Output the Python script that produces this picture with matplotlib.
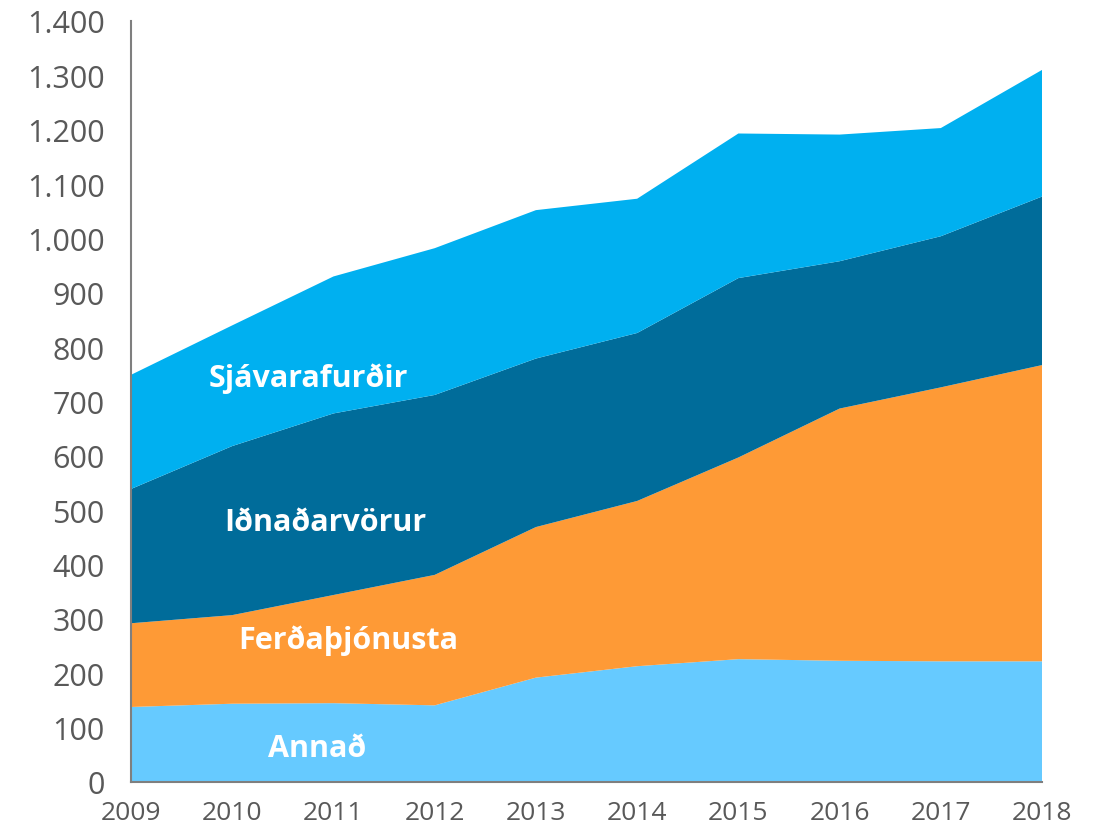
import numpy as np
import matplotlib.pyplot as plt
from matplotlib.ticker import FuncFormatter

years = [2009, 2010, 2011, 2012, 2013, 2014, 2015, 2016, 2017, 2018]
annad = [138, 144, 145, 141, 192, 213, 226, 223, 222, 222]
ferdathjonusta = [154, 163, 199, 240, 277, 304, 371, 464, 504, 545]
idnadarvorur = [247, 311, 334, 331, 310, 309, 330, 271, 278, 310]
sjavarafurdir = [210, 222, 252, 270, 273, 247, 266, 233, 199, 233]

labels = ['Annað', 'Ferðaþjónusta', 'Iðnaðarvörur', 'Sjávarafurðir']
colors = ['#66CAFF', '#FE9A36', '#006C9A', '#00B0F0']

plt.rcParams['font.family'] = ['Open Sans', 'DejaVu Sans']

fig = plt.figure(figsize=(10.99, 8.29), dpi=100)
ax = fig.add_axes([0.1192, 0.0555, 0.829, 0.918])

ax.stackplot(years, annad, ferdathjonusta, idnadarvorur, sjavarafurdir,
             colors=colors, linewidth=0)

ax.set_xlim(2009, 2018)
ax.set_ylim(0, 1400)
ax.set_xticks(years)
ax.set_yticks(range(0, 1401, 100))
ax.yaxis.set_major_formatter(FuncFormatter(lambda v, p: f'{int(v):,}'.replace(',', '.')))

for s in ['top', 'right']:
    ax.spines[s].set_visible(False)
for s in ['left', 'bottom']:
    ax.spines[s].set_color('#7F7F7F')
    ax.spines[s].set_linewidth(1.5)
ax.tick_params(axis='both', length=0, colors='#595959')
ax.tick_params(axis='y', labelsize=22, pad=19)
ax.tick_params(axis='x', labelsize=19, pad=13)

# labels inside the areas
txt = dict(color='white', fontsize=22, fontweight='bold', ha='center', va='center')
ax.text(2010.75, 743, labels[3], **txt)
ax.text(2010.92, 478, labels[2], **txt)
ax.text(2011.15, 262, labels[1], **txt)
ax.text(2010.84, 62, labels[0], **txt)

fig.savefig('out.png', dpi=100)
